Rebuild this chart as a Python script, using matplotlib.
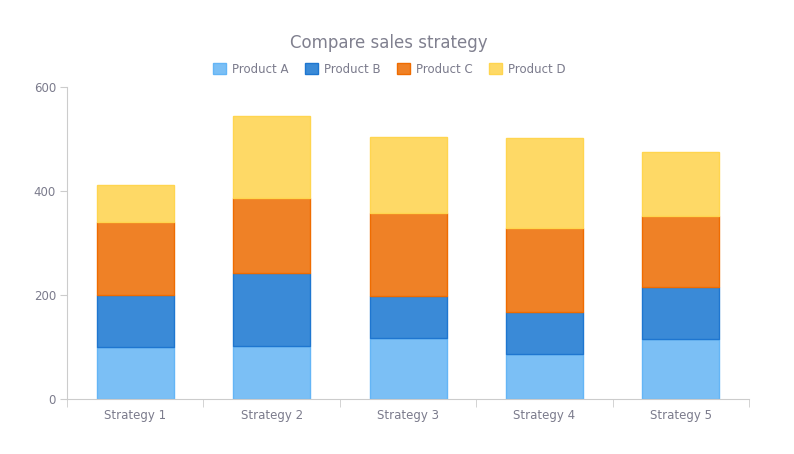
import numpy as np
import matplotlib.pyplot as plt

# Stacked sales per strategy
strategies = ["Strategy 1", "Strategy 2", "Strategy 3", "Strategy 4", "Strategy 5"]
product_a = [100, 102, 118, 87, 115]
product_b = [100, 141, 81, 80, 100]
product_c = [140, 144, 159, 162, 137]
product_d = [72, 157, 146, 173, 124]

series = [("Product A", product_a, "#7bbff5", "#64b5f6"),
          ("Product B", product_b, "#3a8ad7", "#1e76d0"),
          ("Product C", product_c, "#ef8126", "#ef6c00"),
          ("Product D", product_d, "#fed966", "#ffd54f")]

text_col = "#7b7b8c"
axis_col = "#cccccc"

fig = plt.figure(figsize=(7.94, 4.54), dpi=100)
ax = fig.add_axes([0.0844, 0.1211, 0.859, 0.6872])

x = np.arange(len(strategies))
bottom = np.zeros(len(strategies))
for name, vals, face, edge in series:
    ax.bar(x, vals, width=0.565, bottom=bottom, color=face, edgecolor=edge,
           linewidth=1, label=name)
    bottom += np.array(vals)

ax.set_xlim(-0.5, len(strategies) - 0.5)
ax.set_ylim(0, 600)
ax.set_yticks([0, 200, 400, 600])
ax.set_xticks(x)
ax.set_xticklabels(strategies)
ax.set_xticks(np.arange(-0.5, len(strategies)), minor=True)
ax.tick_params(axis="x", which="major", length=0, pad=7, labelsize=8.5, labelcolor=text_col)
ax.tick_params(axis="x", which="minor", length=6, color=axis_col)
ax.tick_params(axis="y", length=5, color=axis_col, labelsize=8.5, labelcolor=text_col, pad=3)

for s in ["top", "right"]:
    ax.spines[s].set_visible(False)
for s in ["left", "bottom"]:
    ax.spines[s].set_color(axis_col)

fig.text(0.49, 0.905, "Compare sales strategy", ha="center", va="center",
         fontsize=12, color="#80808f")
fig.legend(loc="center", bbox_to_anchor=(0.49, 0.848), ncol=4, frameon=False,
           fontsize=8.5, labelcolor=text_col, handlelength=1.1, handleheight=1.1,
           handletextpad=0.5, columnspacing=1.4)

plt.savefig("out.png", dpi=100)
